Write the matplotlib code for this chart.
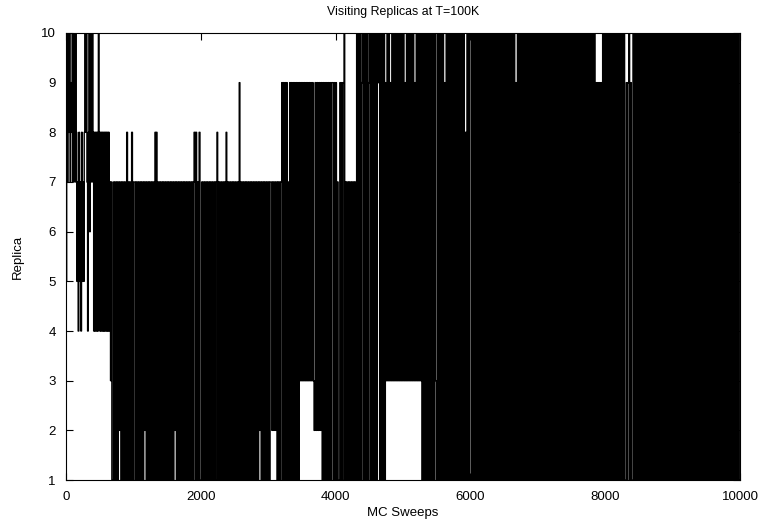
import numpy as np
import matplotlib
matplotlib.use("Agg")
import matplotlib.pyplot as plt

# Replica visited by the T=100K walker.
# Each block: first sweep, end sweep, replicas visited in order ('0' = replica 10).
BLOCK_START = [0, 150, 270, 400, 650, 690, 900, 1010, 1320, 1350, 1900, 2000,
               2240, 2250, 2375, 2385, 2570, 2580, 3040, 3130, 3200, 3460, 3680,
               3800, 3950, 4050, 4125, 4135, 4300, 4750, 5280, 6000, 7000, 7850,
               7950, 8300, 8400, 9200]
BLOCK_END = BLOCK_START[1:] + [10000]
BLOCK_SEQ = [
    "507080798070870",
    "857485748575",
    "8080748060870",
    "8484848408484848484848484",
    "7371",
    "17171717271717171",
    "817171817",
    "71717171717172717171717171",
    "818",
    "1717171717171717171717271717171717171717171717",
    "81817181",
    "17171717171717171717",
    "8",
    "1717171717",
    "8",
    "171717171717171",
    "9",
    "17171717171717171717171727171717171717",
    "7272727",
    "171717",
    "9191919171919191919191",
    "939393939393939393",
    "29292929",
    "191919191919",
    "91919171",
    "191919",
    "0",
    "17171717171717",
    "10101019010101019010101010109010101019",
    "30303930303030303030303930303030303930303030",
    "10101010101010103101010101910101010101010101010101810101",
    "1010101010101010101010101010101010101010101010101019101010101010101010101010",
    "10101010101010101010101010101010101010101010101010101010101010",
    "19191919",
    "10101010101010101010101010101",
    "19190191",
    "101010101010101010101010101010101010101010101010101010101010101010",
    "1010101010101010101010101010101010101010101010101010101010101010101",
]

sweeps, replicas = [], []
for start, end, seq in zip(BLOCK_START, BLOCK_END, BLOCK_SEQ):
    vals = [10 if c == "0" else int(c) for c in seq]
    n = len(vals)
    sweeps.extend(start + (end - start) * np.arange(n) / n)
    replicas.extend(vals)
sweeps.append(10000)
replicas.append(replicas[-1])

plt.rcParams["font.family"] = ["Liberation Sans", "DejaVu Sans"]
plt.rcParams["font.size"] = 9.5

fig = plt.figure(figsize=(7.65, 5.31), dpi=100)
ax = fig.add_axes([0.0863, 0.0960, 0.8810, 0.8419])
ax.plot(sweeps, replicas, color="black", linewidth=1.0, drawstyle="steps-post")

ax.set_xlim(0, 10000)
ax.set_ylim(1, 10)
ax.set_xticks(range(0, 10001, 2000))
ax.set_yticks(range(1, 11))
ax.tick_params(direction="in", top=True, right=True, length=5, width=0.8)
ax.tick_params(axis="x", pad=8)
ax.tick_params(axis="y", pad=7.5)
for s in ax.spines.values():
    s.set_linewidth(0.8)
ax.set_xlabel("MC Sweeps", labelpad=3)
ax.set_ylabel("Replica", labelpad=12)
ax.set_title("Visiting Replicas at T=100K", fontsize=8.9, pad=13)

fig.savefig("out.png", dpi=100)
